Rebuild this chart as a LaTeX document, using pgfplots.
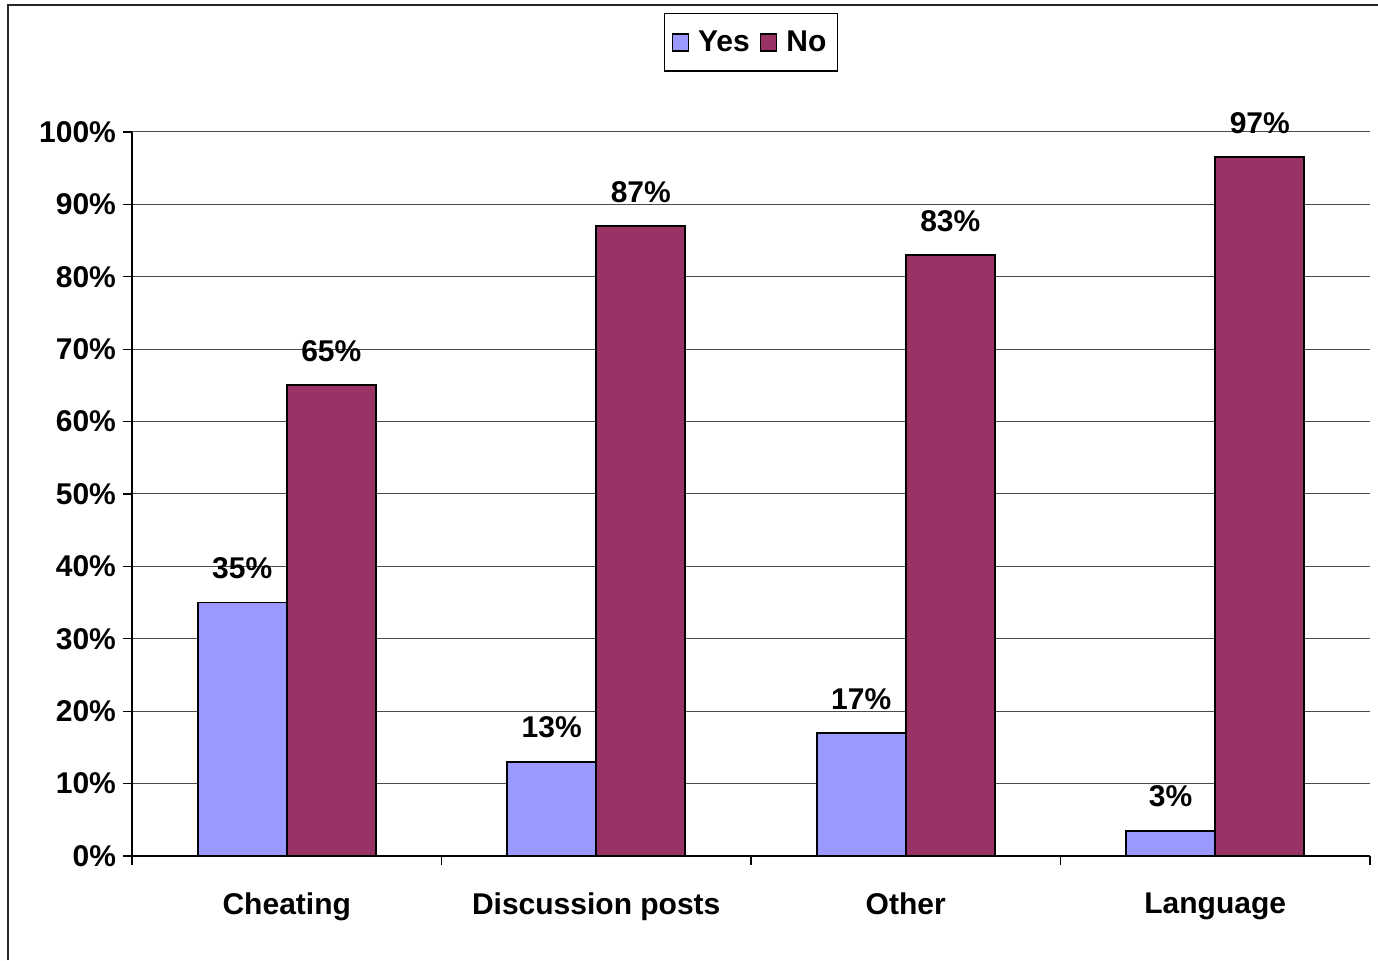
\documentclass[border=0pt]{standalone}
\usepackage{pgfplots}
\pgfplotsset{compat=1.18}
\usepackage{fontspec}
\setmainfont{Liberation Sans}
\definecolor{yescol}{HTML}{9999FF}
\definecolor{nocol}{HTML}{993366}
\begin{document}
\begin{tikzpicture}
\useasboundingbox (0,0) rectangle (689pt,480pt);
\draw[line width=1pt,black!85] (4pt,0) -- (4pt,477.5pt) -- (689pt,477.5pt);
\begin{axis}[
  at={(66pt,52pt)}, anchor=south west,
  scale only axis, width=619pt, height=362pt,
  xmin=-0.5, xmax=3.5, ymin=0, ymax=100,
  axis x line=bottom, axis y line=left,
  axis line style={-, black, line width=0.6pt},
  xtick={0,1,2,3},
  xticklabels={Cheating,Discussion posts,Other,Language},
  major x tick style={draw=none},
  minor xtick={-0.5,0.5,1.5,2.5,3.5},
  minor tick length=4.5pt,
  major tick length=4.5pt,
  tick align=outside,
  tick style={black, line width=0.6pt},
  ytick={0,10,...,100},
  yticklabels={0\%,10\%,20\%,30\%,40\%,50\%,60\%,70\%,80\%,90\%,100\%},
  ymajorgrids,
  grid style={black!70, line width=0.5pt},
  ticklabel style={font=\fontsize{15}{18}\selectfont\bfseries},
  xticklabel style={yshift=-10.5pt},
  ybar=0pt, bar width=0.288,
  point meta=explicit symbolic,
  nodes near coords={\pgfplotspointmeta},
  nodes near coords style={font=\fontsize{15}{18}\selectfont\bfseries, yshift=8pt},
  legend columns=2,
  legend style={at={(0.5,1.124)}, anchor=center, draw=black, line width=0.6pt,
    font=\fontsize{15}{18}\selectfont\bfseries, inner xsep=3.5pt, inner ysep=6.5pt,
    /tikz/every odd column/.append style={column sep=2.5pt},
    /tikz/every even column/.append style={column sep=3pt}},
  legend image code/.code={\draw[#1, line width=0.8pt] (0pt,-4.5pt) rectangle (8pt,4pt);},
  clip=false,
]
\addplot[fill=yescol, draw=black, line width=0.9pt] coordinates {(0,35) [35\%] (1,13) [13\%] (2,17) [17\%] (3,3.5) [3\%]};
\addplot[fill=nocol, draw=black, line width=0.9pt] coordinates {(0,65) [65\%] (1,87) [87\%] (2,83) [83\%] (3,96.5) [97\%]};
\legend{Yes,No}
\end{axis}
\end{tikzpicture}
\end{document}
